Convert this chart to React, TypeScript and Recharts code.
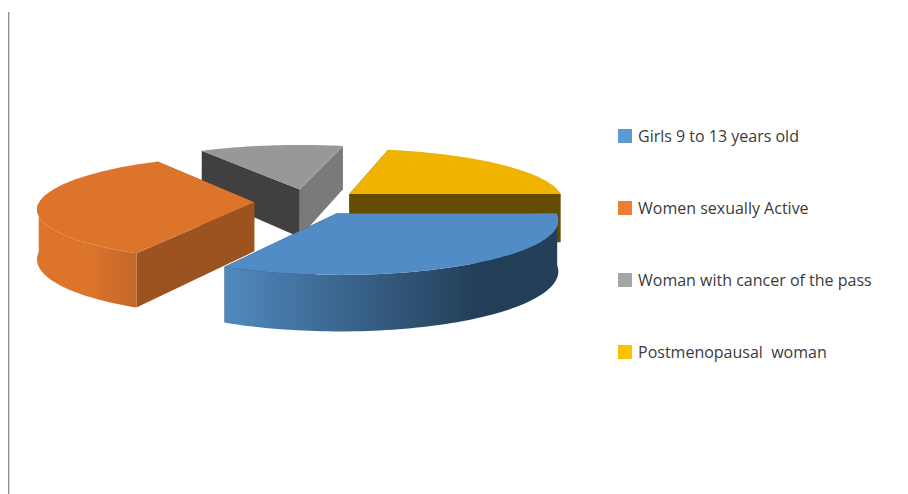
import { PieChart, Pie, Legend } from 'recharts'

const categories = ['Girls 9 to 13 years old', 'Women sexually Active', 'Woman with cancer of the pass', 'Postmenopausal  woman']
const shares = [32.8, 33.6, 12.2, 21.4]
const legendColors = ['#5b9bd5', '#ed7d31', '#a5a5a5', '#ffc000']

// back to front, so the front slices paint over the ones behind them
const drawOrder = [2, 3, 0, 1]

const topColors = ['#528cc7', '#dd742c', '#989898', '#efb300']
const startWallColors = ['#243f58', '#9d531f', '#404040', '#644c00']
const endWallColors = ['#243f58', '#9d531f', '#7a7a7a', '#644c00']
const rimStops = [
  [['0%', '#5089bf'], ['76%', '#233e57'], ['100%', '#243f58']],
  [['0%', '#dd742c'], ['50%', '#dc742c'], ['100%', '#c5672a']],
  [['0%', '#7a7a7a'], ['100%', '#7a7a7a']],
  [['0%', '#644c00'], ['100%', '#644c00']],
]

const tilt = 52 / 215
const perspective = 0.11
const wallDepth = 49
const explode = 0.25

const tableData = drawOrder.map((i) => ({ name: categories[i], value: shares[i], fill: legendColors[i] }))

const rad = (deg: number) => (deg * Math.PI) / 180

function Slice3D(props: any) {
  const { cx, cy, outerRadius, startAngle, endAngle, name } = props
  const idx = categories.indexOf(name)
  const from = -startAngle
  const to = -endAngle
  const mid = (from + to) / 2
  const ox = explode * Math.cos(rad(mid))
  const oy = explode * Math.sin(rad(mid))

  // unit disc point -> screen, with a simple projective foreshortening
  const project = (u: number, v: number) => {
    const wx = ox + u
    const wy = oy + v
    const s = 1 / (1 - perspective * wy)
    return { x: cx + outerRadius * wx * s, y: cy + outerRadius * tilt * wy * s, d: wallDepth * s }
  }

  const rim: { x: number; y: number; d: number; deg: number }[] = []
  const steps = Math.ceil((to - from) / 1.5)
  for (let i = 0; i <= steps; i++) {
    const deg = from + ((to - from) * i) / steps
    rim.push({ ...project(Math.cos(rad(deg)), Math.sin(rad(deg))), deg })
  }
  const apex = project(0, 0)
  const first = rim[0]
  const last = rim[rim.length - 1]

  const wall = (a: any, b: any) =>
    `M${a.x},${a.y}L${b.x},${b.y}L${b.x},${b.y + b.d}L${a.x},${a.y + a.d}Z`

  const front = rim.filter((p) => Math.sin(rad(p.deg)) >= 0)
  const rimPath =
    front.length > 1
      ? 'M' +
        front.map((p) => `${p.x},${p.y}`).join('L') +
        'L' +
        [...front].reverse().map((p) => `${p.x},${p.y + p.d}`).join('L') +
        'Z'
      : ''
  const topPath = `M${apex.x},${apex.y}L` + rim.map((p) => `${p.x},${p.y}`).join('L') + 'Z'
  const gradId = `rim-${idx}`

  return (
    <g>
      <defs>
        <linearGradient id={gradId} x1="0" y1="0" x2="1" y2="0">
          {rimStops[idx].map(([offset, color]) => (
            <stop key={offset} offset={offset} stopColor={color} />
          ))}
        </linearGradient>
      </defs>
      <path d={wall(apex, first)} fill={startWallColors[idx]} />
      <path d={wall(apex, last)} fill={endWallColors[idx]} />
      {rimPath && <path d={rimPath} fill={`url(#${gradId})`} />}
      <path d={topPath} fill={topColors[idx]} />
    </g>
  )
}

function LegendList({ payload }: any) {
  const items = [...(payload ?? [])].sort((a, b) => categories.indexOf(a.value) - categories.indexOf(b.value))
  return (
    <div>
      {items.map((item: any) => (
        <div key={item.value} style={{ height: 72, display: 'flex', alignItems: 'flex-start', whiteSpace: 'pre' }}>
          <span style={{ width: 14, height: 14, marginTop: 3, marginRight: 6, background: item.color, flex: 'none' }} />
          <span style={{ fontFamily: '"Open Sans", sans-serif', fontSize: 16, lineHeight: '20px', color: '#3b3b3b' }}>
            {item.value}
          </span>
        </div>
      ))}
    </div>
  )
}

export default function App() {
  return (
    <div style={{ position: 'fixed', left: 0, top: 0, width: 908, height: 494, background: '#fff', overflow: 'hidden' }}>
      <div style={{ position: 'absolute', left: 8, top: 12, width: 1, height: 482, background: '#8f8f8f', boxShadow: '1px 0 0 #d8d8d8' }} />
      <PieChart width={908} height={494} margin={{ top: 0, right: 0, bottom: 0, left: 0 }}>
        <Pie
          data={tableData}
          dataKey="value"
          nameKey="name"
          cx={308}
          cy={202}
          outerRadius={215}
          startAngle={-239}
          endAngle={-599}
          stroke="none"
          shape={Slice3D}
          isAnimationActive={false}
        />
        <Legend
          layout="vertical"
          content={<LegendList />}
          wrapperStyle={{ position: 'absolute', left: 618, top: 126, width: 290, bottom: 'auto' }}
        />
      </PieChart>
    </div>
  )
}
